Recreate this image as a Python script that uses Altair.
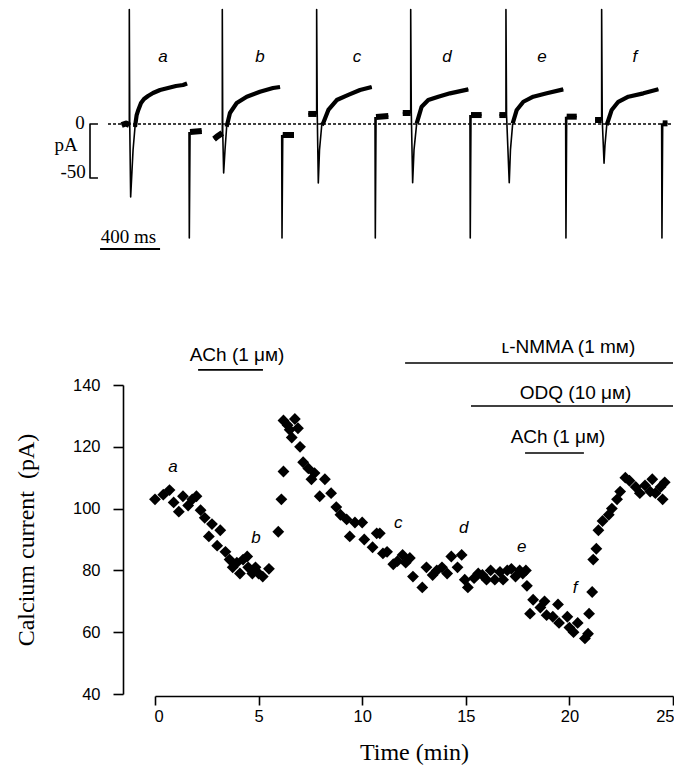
import altair as alt
import pandas as pd

SANS = "Liberation Sans, Arial, Helvetica, sans-serif"
SERIF = "Liberation Serif, Times New Roman, serif"

# ---------------- Panel B : calcium current vs time ----------------
time_min = [
    0.0, 0.4, 0.7, 0.9, 1.15, 1.35, 1.6, 1.8, 2.0, 2.2,
    2.4, 2.6, 2.75, 3.0, 3.15, 3.4, 3.6, 3.75, 3.95, 4.1,
    4.25, 4.45, 4.5, 4.7, 4.85, 5.0, 5.2, 5.5,
    5.95, 6.1, 6.2,
    6.2, 6.4, 6.5, 6.6, 6.75, 6.9, 7.0, 7.15, 7.4, 7.55,
    7.7, 7.95, 8.2, 8.5, 8.75, 8.95, 9.25, 9.4, 9.65, 10.0,
    10.1, 10.5, 10.7, 10.85, 11.0, 11.2, 11.5, 11.7, 11.95, 12.1,
    12.3, 12.45, 12.9, 13.1, 13.4, 13.6, 13.85, 14.1, 14.3, 14.6,
    14.8, 14.95, 15.1, 15.4, 15.6, 15.8, 16.0, 16.2, 16.4, 16.65,
    16.8, 17.0, 17.2, 17.4, 17.6, 17.75, 17.9, 17.95,
    18.1, 18.25, 18.6, 18.8, 18.9, 19.2, 19.45, 19.5, 19.9, 20.0,
    20.2, 20.4, 20.75, 20.9, 20.95, 21.1, 21.15, 21.3, 21.4, 21.6,
    21.9, 22.05, 22.3, 22.45, 22.7, 22.9, 23.2, 23.4, 23.65, 23.9,
    24.0, 24.15, 24.4, 24.5, 24.6,
]
current_pA = [
    103, 104.5, 106, 102, 99, 104, 101, 103, 104, 99.5,
    97, 91, 95, 88, 93, 86, 83.5, 81, 82.5, 79,
    83.5, 84.5, 81, 79, 81, 79, 78, 80.5,
    92.5, 103, 112,
    128.5, 127, 125.5, 123, 129, 126, 120, 115, 113, 109.5,
    111.5, 104, 109.5, 105, 100.5, 98, 96.5, 91, 95.5, 95.5,
    90, 87.5, 92, 92, 85.5, 86, 82, 83, 85, 82.5,
    84, 78, 74.5, 81, 78.5, 80, 81, 79, 84.5, 81,
    85, 77, 74.5, 77.5, 79, 78.5, 77, 80, 77, 79.5,
    77, 80, 80.5, 78, 80, 79, 80, 75,
    66, 70.5, 68, 70, 65.5, 65, 69, 63, 65, 61.5,
    60, 63, 58, 59.5, 66, 73, 83.5, 87, 93, 96,
    98, 100, 103, 105.5, 110, 109, 107, 105, 107.5, 105.5,
    109.5, 105, 107, 103, 108.5,
]

# drug application bars (start, end in min) and labels
drug_labels = ["ACh (1 \u03bc\u1d0d)", "\u029f-NMMA (1 m\u1d0d)", "ODQ (10 \u03bc\u1d0d)", "ACh (1 \u03bc\u1d0d)"]
drug_start = [2.08, 12.07, 15.25, 17.86]
drug_end = [5.21, 25.0, 25.0, 20.7]
drug_level = [144.9, 147.1, 133.2, 118.0]
drug_text_x = [3.96, 19.95, 20.3, 19.45]
drug_text_y = [149.7, 152.3, 137.4, 123.2]

point_letters = ["a", "b", "c", "d", "e", "f"]
letter_t = [0.87, 4.87, 11.74, 14.9, 17.7, 20.27]
letter_I = [113.5, 90.5, 95.2, 93.6, 87.5, 74.2]

# ---------------- Panel A : current traces (time in ms, current in pA) ----------------
sweep_a = [
    (11, -0.9, "baseline"), (40, 0.5, "baseline"), (62, -0.9, "baseline"),
    (62, -0.9, "transient"), (62, 106, "transient"), (65, -0.9, "transient"),
    (71, -67.6, "transient"), (87, -24.1, "transient"), (100, -2.8, "transient"),
    (100, -2.8, "current"), (111, 8.3, "current"), (122, 13.0, "current"), (140, 19.4, "current"),
    (160, 23.1, "current"), (187, 25.9, "current"), (220, 28.7, "current"), (267, 31.5, "current"),
    (320, 33.3, "current"), (373, 35.2, "current"), (420, 36.1, "current"), (447, 37.5, "current"),
    (460, -7.4, "tail"), (462, -105.6, "tail"), (467, -7.4, "tail"),
    (467, -7.4, "holding"), (545, -6.5, "holding"),
]
sweep_b = [
    (627, -13.9, "baseline"), (653, -11.1, "baseline"), (682, -8.3, "baseline"),
    (682, -8.3, "transient"), (682, 106, "transient"), (685, -8.3, "transient"),
    (691, -45.4, "transient"), (700, -24.1, "transient"), (711, -2.5, "transient"),
    (711, -2.5, "current"), (733, 10.2, "current"), (778, 19.4, "current"), (845, 25.3, "current"),
    (933, 29.9, "current"), (1020, 33.3, "current"), (1067, 34.3, "current"),
    (1078, -10.2, "tail"), (1080, -105.6, "tail"), (1085, -10.2, "tail"),
    (1085, -10.2, "holding"), (1160, -10.2, "holding"),
]
sweep_c = [
    (1255, 9.3, "baseline"), (1311, 9.3, "baseline"),
    (1311, 9.3, "transient"), (1311, 106, "transient"), (1315, 9.3, "transient"),
    (1322, -54.6, "transient"), (1330, -24.1, "transient"), (1345, -0.9, "transient"),
    (1345, -0.9, "current"), (1355, 0.9, "current"), (1389, 13.0, "current"), (1445, 22.2, "current"),
    (1522, 26.9, "current"), (1600, 31.5, "current"), (1678, 34.3, "current"),
    (1700, 6.5, "tail"), (1702, -105.6, "tail"), (1707, 6.5, "tail"),
    (1707, 6.5, "holding"), (1789, 7.4, "holding"),
]
sweep_d = [
    (1885, 10.2, "baseline"), (1938, 10.2, "baseline"),
    (1938, 10.2, "transient"), (1938, 106, "transient"), (1942, 10.2, "transient"),
    (1951, -54.4, "transient"), (1960, -24.0, "transient"), (1978, 0.6, "transient"),
    (1978, 0.6, "current"), (2011, 16.0, "current"), (2055, 22.2, "current"), (2122, 25.3, "current"),
    (2200, 28.4, "current"), (2322, 32.1, "current"),
    (2333, 8.3, "tail"), (2335, -105.6, "tail"), (2340, 8.3, "tail"),
    (2340, 8.3, "holding"), (2411, 8.3, "holding"),
]
sweep_e = [
    (2529, 8.3, "baseline"), (2573, 8.3, "baseline"),
    (2573, 8.3, "transient"), (2573, 106, "transient"), (2577, 8.3, "transient"),
    (2595, -54.4, "transient"), (2603, -24.0, "transient"), (2618, 0.6, "transient"),
    (2618, 0.6, "current"), (2645, 13.0, "current"), (2689, 20.6, "current"), (2755, 25.3, "current"),
    (2845, 28.4, "current"), (2955, 32.1, "current"),
    (2971, 6.8, "tail"), (2973, -105.6, "tail"), (2978, 6.8, "tail"),
    (2978, 6.8, "holding"), (3045, 6.8, "holding"),
]
sweep_f = [
    (3167, 3.7, "baseline"), (3211, 3.7, "baseline"),
    (3211, 3.7, "transient"), (3211, 106, "transient"), (3215, 3.7, "transient"),
    (3227, -36.4, "transient"), (3233, -20.0, "transient"), (3245, -0.9, "transient"),
    (3245, -0.9, "current"), (3278, 13.0, "current"), (3322, 20.6, "current"), (3389, 25.3, "current"),
    (3489, 28.4, "current"), (3589, 32.1, "current"),
    (3611, 0.6, "tail"), (3613, -105.6, "tail"), (3618, 0.6, "tail"),
    (3618, 0.6, "holding"), (3650, 0.6, "holding"),
]
sweep_names = ["a", "b", "c", "d", "e", "f"]
sweep_label_t = [287, 933, 1580, 2180, 2813, 3433]
sweep_label_i = [62, 62, 62, 62, 62, 62]

# ---------------- build top panel ----------------
rows = []
for name, sweep in zip(sweep_names, [sweep_a, sweep_b, sweep_c, sweep_d, sweep_e, sweep_f]):
    for k, (t, i, part) in enumerate(sweep):
        rows.append({"t": t, "i": i, "part": part, "seg": name + "-" + part, "k": k})
traces = pd.DataFrame(rows)

xs_top = alt.Scale(domain=[233.3, 3686.7], nice=False, zero=False)
ys_top = alt.Scale(domain=[-124.07, 107.41], nice=False, zero=False)
X = lambda f: alt.X(f, scale=xs_top, axis=None)
Y = lambda f: alt.Y(f, scale=ys_top, axis=None)

thin = alt.Chart(traces).mark_line(color="black", strokeWidth=1.6, strokeJoin="round").encode(
    x=X("t:Q"), y=Y("i:Q"), detail="seg:N", order="k:Q"
)
thick = alt.Chart(traces).transform_filter(
    "datum.part == 'current'"
).mark_line(color="black", strokeWidth=4.2, strokeJoin="round").encode(
    x=X("t:Q"), y=Y("i:Q"), detail="seg:N", order="k:Q"
)
blobs = alt.Chart(traces).transform_filter(
    "datum.part == 'baseline' || datum.part == 'holding'"
).mark_line(color="black", strokeWidth=6, strokeJoin="round").encode(
    x=X("t:Q"), y=Y("i:Q"), detail="seg:N", order="k:Q"
)

zero_line = alt.Chart(pd.DataFrame({"t1": [-80], "t2": [3675], "i": [0]})).mark_rule(
    color="black", strokeWidth=1.4, strokeDash=[3, 2]
).encode(x=X("t1:Q"), x2="t2:Q", y=Y("i:Q"))

bracket = alt.Chart(pd.DataFrame({"t": [-147, -200, -200, -147], "i": [0, 0, -50, -50], "k": [0, 1, 2, 3]})).mark_line(
    color="black", strokeWidth=1.6, strokeJoin="round"
).encode(x=X("t:Q"), y=Y("i:Q"), order="k:Q")

time_bar = alt.Chart(pd.DataFrame({"t1": [-133], "t2": [267], "i": [-115.7]})).mark_rule(
    color="black", strokeWidth=2
).encode(x=X("t1:Q"), x2="t2:Q", y=Y("i:Q"))

scale_text = alt.Chart(pd.DataFrame({
    "t": [-267, -360, -313, 57],
    "i": [0.9, -19.4, -44.4, -104.6],
    "label": ["0", "pA", "-50", "400 ms"],
})).mark_text(font=SERIF, fontSize=19, color="black", baseline="middle").encode(
    x=X("t:Q"), y=Y("i:Q"), text="label:N"
)

sweep_text = alt.Chart(pd.DataFrame({"t": sweep_label_t, "i": sweep_label_i, "label": sweep_names})).mark_text(
    font=SANS, fontSize=17, fontStyle="italic", color="black", baseline="middle"
).encode(x=X("t:Q"), y=Y("i:Q"), text="label:N")

top = alt.layer(zero_line, thin, thick, blobs, bracket, time_bar, scale_text, sweep_text).properties(
    width=518, height=250
)

# ---------------- build bottom panel ----------------
xs_b = alt.Scale(domain=[0, 25], nice=False, zero=False)
ys_b = alt.Scale(domain=[40, 140], nice=False, zero=False)

pts = pd.DataFrame({"t": time_min, "I": current_pA})
points = alt.Chart(pts).mark_point(shape="diamond", filled=True, size=140, color="black", opacity=1).encode(
    x=alt.X("t:Q", scale=xs_b, title="Time (min)",
            axis=alt.Axis(values=[0, 5, 10, 15, 20, 25], offset=2, tickSize=9, labelPadding=3,
                          labelFlush=True, labelFlushOffset=1, titlePadding=16, grid=False)),
    y=alt.Y("I:Q", scale=ys_b, title="Calcium current\u00a0 (pA)",
            axis=alt.Axis(values=[40, 60, 80, 100, 120, 140], offset=32, tickSize=10, labelPadding=13,
                          labelFlush=False, titlePadding=34, grid=False)),
)

drugs = pd.DataFrame({
    "t1": drug_start, "t2": drug_end, "lvl": drug_level,
    "tx": drug_text_x, "ty": drug_text_y, "label": drug_labels,
})
drug_bars = alt.Chart(drugs).mark_rule(color="black", strokeWidth=1.6).encode(
    x=alt.X("t1:Q", scale=xs_b), x2="t2:Q", y=alt.Y("lvl:Q", scale=ys_b)
)
drug_text = alt.Chart(drugs).mark_text(font=SANS, fontSize=19, color="black", baseline="middle").encode(
    x=alt.X("tx:Q", scale=xs_b), y=alt.Y("ty:Q", scale=ys_b), text="label:N"
)
letters = alt.Chart(pd.DataFrame({"t": letter_t, "I": letter_I, "label": point_letters})).mark_text(
    font=SANS, fontSize=17, fontStyle="italic", color="black", baseline="middle"
).encode(x=alt.X("t:Q", scale=xs_b), y=alt.Y("I:Q", scale=ys_b), text="label:N")

bottom = alt.layer(points, drug_bars, drug_text, letters).properties(width=518, height=309)

chart = alt.vconcat(top, bottom, spacing=127, bounds="flush").properties(
    padding={"left": 6, "top": 0, "right": 0, "bottom": 0}
).configure_view(stroke=None).configure_axis(
    domainColor="black", domainWidth=1.6, tickColor="black", tickWidth=1.6,
    labelColor="black", labelFont=SANS, labelFontSize=16.5,
    titleFont=SERIF, titleFontSize=24, titleFontWeight="normal", titleColor="black",
)

chart.save("out.html", embed_options={"renderer": "svg", "actions": False})
